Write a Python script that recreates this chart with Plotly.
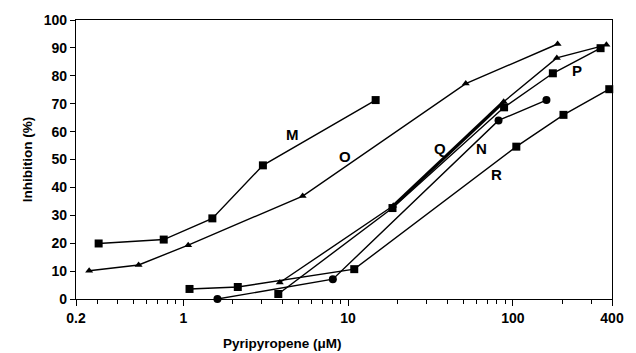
import plotly.graph_objects as go
import math

# Data (x: Pyripyropene µM, y: inhibition %)
M_x = [0.306, 0.76, 1.5, 3.04, 14.7]
M_y = [19.9, 21.3, 28.9, 47.9, 71.3]
O_x = [0.268, 0.535, 1.07, 5.3, 51.8, 187]
O_y = [10.1, 12.2, 19.3, 36.9, 77.2, 91.4]
Q_x = [3.85, 18.8, 88, 185, 370]
Q_y = [5.9, 33.4, 70.7, 86.4, 91.1]
P_x = [3.77, 18.6, 88.5, 175, 341]
P_y = [1.8, 32.6, 68.7, 80.9, 89.9]
N_x = [1.61, 8.08, 81.9, 160]
N_y = [0.0, 7.1, 64.0, 71.3]
R_x = [1.09, 2.14, 10.9, 105, 203, 385]
R_y = [3.6, 4.3, 10.7, 54.6, 66.0, 75.2]

labels = ["M", "O", "Q", "N", "R", "P"]
label_x = [4.6, 9.6, 36, 64.7, 79.4, 246]
label_y = [58.8, 51.0, 53.9, 53.9, 44.7, 81.8]

x_tickvals = [0.223, 1, 10, 100, 400]
x_ticktext = ["0.2", "1", "10", "100", "400"]
x_minor = [0.3, 0.4, 0.5, 0.6, 0.7, 0.8, 0.9,
           2, 3, 4, 5, 6, 7, 8, 9,
           20, 30, 40, 50, 60, 70, 80, 90,
           200, 300]
y_tickvals = list(range(0, 101, 10))

FONT = "Liberation Sans, Arial, sans-serif"
LW = 1.4

fig = go.Figure()

def add(xs, ys, symbol, size=8):
    fig.add_trace(go.Scatter(
        x=xs, y=ys, mode="lines+markers",
        line=dict(color="black", width=LW),
        marker=dict(symbol=symbol, size=size, color="black"),
        cliponaxis=False, showlegend=False, hoverinfo="x+y"))

add(M_x, M_y, "square")
add(O_x, O_y, "triangle-up", 7)
add(R_x, R_y, "square")
add(P_x, P_y, "square")
add(N_x, N_y, "circle")
add(Q_x, Q_y, "triangle-up", 7)
# thick middle segment of Q
fig.add_trace(go.Scatter(
    x=Q_x[1:3], y=Q_y[1:3], mode="lines",
    line=dict(color="black", width=3.2),
    cliponaxis=False, showlegend=False, hoverinfo="skip"))

for t, lx, ly in zip(labels, label_x, label_y):
    fig.add_annotation(x=math.log10(lx), y=ly, text=t, showarrow=False,
                       font=dict(family=FONT, size=15, color="black", weight="bold"))

fig.add_annotation(xref="paper", yref="paper", x=(287 - 76) / 548, y=-0.125,
                   text="Pyripyropene (\u03bcM)", showarrow=False,
                   yanchor="top",
                   font=dict(family=FONT, size=13.5, color="black", weight="bold"))
fig.add_annotation(xref="paper", yref="paper", x=(17 - 76) / 548, y=0.5,
                   text="Inhibition (%)", showarrow=False, textangle=-90,
                   font=dict(family=FONT, size=13.5, color="black", weight="bold"))

fig.update_xaxes(
    type="log",
    range=[math.log10(0.223), math.log10(400)],
    tickmode="array", tickvals=x_tickvals, ticktext=x_ticktext,
    ticks="outside", ticklen=6, tickwidth=1.2, tickcolor="black",
    minor=dict(tickmode="array", tickvals=x_minor, ticks="outside",
               ticklen=4, tickwidth=1, tickcolor="black", showgrid=False),
    showline=True, linecolor="black", linewidth=1.3, mirror=True,
    showgrid=False, zeroline=False,
    tickfont=dict(family=FONT, size=14, color="black", weight="bold"),
)
fig.update_yaxes(
    range=[0, 100],
    tickmode="array", tickvals=y_tickvals,
    ticks="outside", ticklen=5, tickwidth=1.2, tickcolor="black",
    showline=True, linecolor="black", linewidth=1.3, mirror=True,
    showgrid=False, zeroline=False,
    tickfont=dict(family=FONT, size=14, color="black", weight="bold"),
)

fig.update_layout(
    width=636, height=353,
    margin=dict(l=76, r=12, t=16, b=54),
    paper_bgcolor="white", plot_bgcolor="white",
    showlegend=False,
)

fig.write_html(
    "out.html",
    config={"displayModeBar": False},
    post_script="document.body.style.margin='0';document.body.style.padding='0';"
                "document.documentElement.style.overflow='hidden';",
)
